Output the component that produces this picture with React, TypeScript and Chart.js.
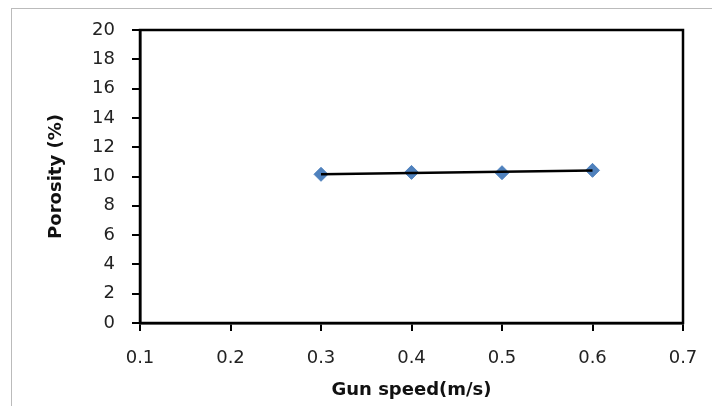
import React, { useEffect, useRef } from "react";
import { Chart, registerables } from "chart.js";

Chart.register(...registerables);

const gunSpeed = [0.3, 0.4, 0.5, 0.6];
const porosity = [10.15, 10.28, 10.26, 10.42];
const trendX = [0.3, 0.6];
const trendY = [10.15, 10.41];

const FONT = "'DejaVu Sans', 'Open Sans', sans-serif";

const frame = {
  id: "frame",
  afterDatasetsDraw(chart: any) {
    const { ctx, chartArea } = chart;
    ctx.save();
    ctx.strokeStyle = "#000";
    ctx.lineWidth = 2.5;
    ctx.strokeRect(chartArea.left, chartArea.top, chartArea.right - chartArea.left, chartArea.bottom - chartArea.top);
    ctx.restore();
  },
};

export default function App() {
  const ref = useRef<HTMLCanvasElement | null>(null);
  useEffect(() => {
    if (!ref.current) return;
    const chart = new Chart(ref.current, {
      type: "scatter",
      data: {
        datasets: [
          {
            label: "Trend",
            data: trendX.map((x, i) => ({ x, y: trendY[i] })),
            showLine: true,
            borderColor: "#000",
            borderWidth: 2.5,
            pointRadius: 0,
            order: 1,
          },
          {
            label: "Porosity",
            data: gunSpeed.map((x, i) => ({ x, y: porosity[i] })),
            showLine: false,
            pointStyle: "rectRot",
            pointRadius: 7,
            backgroundColor: "#4F81BD",
            borderColor: "#4F81BD",
            borderWidth: 1,
            order: 2,
          },
        ],
      },
      options: {
        animation: false,
        responsive: false,
        layout: { padding: { left: 46, right: 29, top: 30, bottom: 5 } },
        plugins: { legend: { display: false }, tooltip: { enabled: false } },
        scales: {
          x: {
            type: "linear",
            min: 0.1,
            max: 0.7,
            afterFit(scale: any) {
              scale.height = 78;
              scale.paddingLeft = 0;
              scale.paddingRight = 0;
            },
            ticks: {
              stepSize: 0.1,
              color: "#222",
              padding: 17,
              font: { family: FONT, size: 18 },
              callback: (v: any) => Number(v).toFixed(1),
            },
            grid: { drawOnChartArea: false, drawTicks: true, tickLength: 8, color: "#000", lineWidth: 2 },
            border: { display: true, color: "#000", width: 2.5 },
            title: {
              display: true,
              text: "Gun speed(m/s)",
              color: "#111",
              font: { family: FONT, size: 18, weight: "bold" },
              padding: { top: 4, bottom: 0 },
            },
          },
          y: {
            type: "linear",
            min: 0,
            max: 20,
            afterFit(scale: any) {
              scale.width = 94;
              scale.paddingTop = 0;
              scale.paddingBottom = 0;
            },
            ticks: {
              stepSize: 2,
              color: "#222",
              padding: 17,
              font: { family: FONT, size: 18 },
            },
            grid: { drawOnChartArea: false, drawTicks: true, tickLength: 8, color: "#000", lineWidth: 2 },
            border: { display: true, color: "#000", width: 2.5 },
            title: {
              display: true,
              text: "Porosity (%)",
              color: "#111",
              font: { family: FONT, size: 18, weight: "bold" },
              padding: { top: 0, bottom: 0 },
            },
          },
        },
      },
      plugins: [frame],
    });
    return () => chart.destroy();
  }, []);

  return (
    <div style={{ position: "fixed", left: 0, top: 0, width: 712, height: 406, background: "#fff" }}>
      <div
        style={{
          position: "absolute",
          left: 11,
          top: 8,
          right: 0,
          bottom: 0,
          borderLeft: "1.5px solid #bbb",
          borderTop: "1.5px solid #bbb",
        }}
      />
      <canvas ref={ref} width={712} height={406} style={{ position: "absolute", left: 0, top: 0 }} />
    </div>
  );
}
